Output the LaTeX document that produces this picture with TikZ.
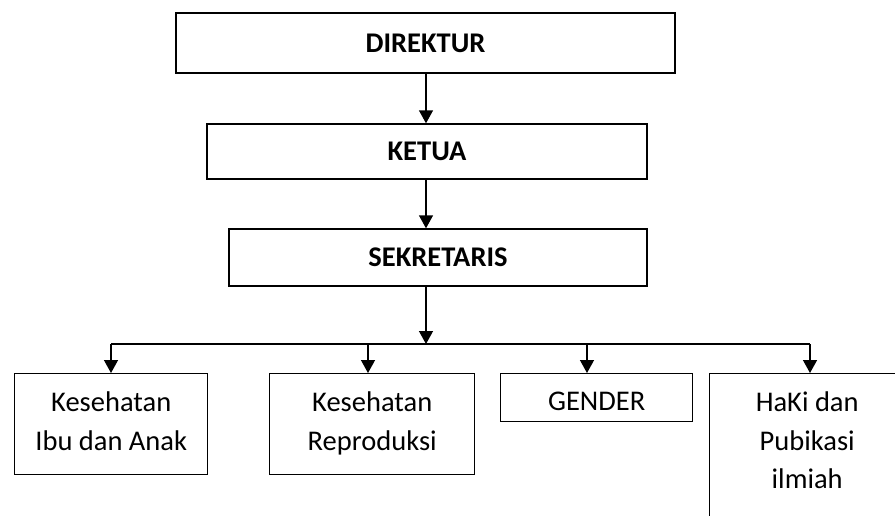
\documentclass[tikz,border=0pt]{standalone}
\usepackage{fontspec}
\setmainfont{Carlito}
\usetikzlibrary{arrows.meta}

\begin{document}
\begin{tikzpicture}[x=1pt,y=-1pt,
    box/.style={draw,line width=1.4pt,inner sep=0pt,font=\fontsize{28.5}{38.5}\selectfont},
    head/.style={box,font=\fontsize{28.5}{38.5}\selectfont\bfseries},
    unit/.style={box,anchor=north west,align=center},
    link/.style={line width=1.4pt,-{Triangle[width=14pt,length=13pt]}}]
    \path[use as bounding box,clip] (0,0) rectangle (895,515);
    \node[head,minimum width=499pt,minimum height=60pt] (dir) at (425.5,43) {DIREKTUR};
    \node[head,minimum width=440pt,minimum height=55pt] (ketua) at (427,151.5) {KETUA};
    \node[head,minimum width=418pt,minimum height=57pt] (sek) at (438,257.5) {SEKRETARIS};
    \node[unit,minimum width=193pt,text height=76.5pt,text depth=24.5pt] (kia) at (14,373) {Kesehatan\\Ibu dan Anak};
    \node[unit,minimum width=205pt,text height=76.5pt,text depth=24.5pt] (repro) at (269,373) {Kesehatan\\Reproduksi};
    \node[unit,minimum width=192pt,text height=37pt,text depth=11pt] (gender) at (500,373) {GENDER};
    \node[unit,minimum width=195pt,text height=115pt,text depth=45pt] (haki) at (709,373) {HaKi dan\\Pubikasi\\ilmiah};
    \coordinate (hub) at (426,344);
    \coordinate (b1) at (111,344);
    \coordinate (b2) at (368,344);
    \coordinate (b3) at (587,344);
    \coordinate (b4) at (810,344);
    \draw[link] (dir.south -| hub) -- (ketua.north -| hub);
    \draw[link] (ketua.south -| hub) -- (sek.north -| hub);
    \draw[link] (sek.south -| hub) -- (hub);
    \draw[line width=1.4pt] (b1) -- (b4);
    \foreach \b/\n in {b1/kia,b2/repro,b3/gender,b4/haki}
        \draw[link] (\b) -- (\b |- \n.north);
\end{tikzpicture}
\end{document}
